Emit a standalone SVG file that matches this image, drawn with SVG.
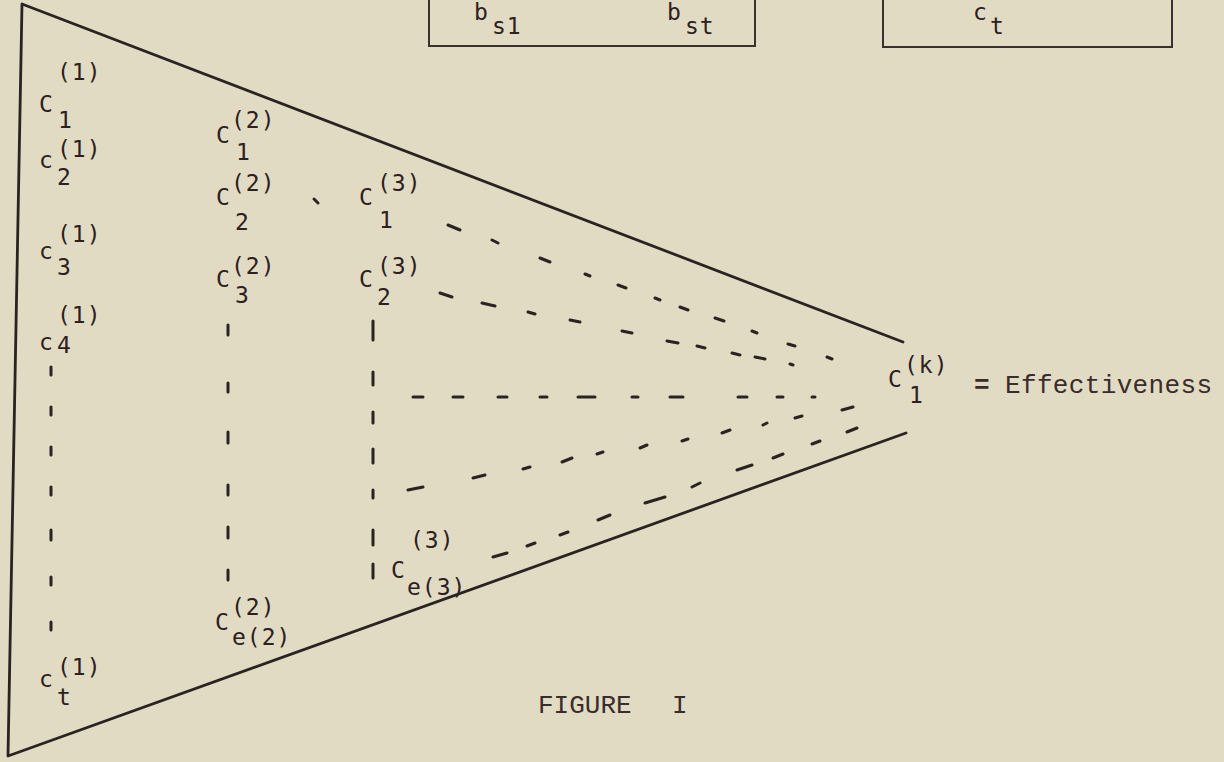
<svg xmlns="http://www.w3.org/2000/svg" width="1224" height="762" viewBox="0 0 1224 762">
<style>
.bg{fill:#e1dbc3}
.ln{fill:none;stroke:#2b2222;stroke-width:2.8;stroke-linecap:round;stroke-linejoin:round}
.bx{fill:none;stroke:#3a3030;stroke-width:2}
.ds{fill:none;stroke:#2b2222;stroke-width:3;stroke-linecap:round}
.t{font-family:"DejaVu Sans Mono","Liberation Mono",monospace;font-size:23px;fill:#2c2020}
.s{letter-spacing:1px}
.tw{font-family:"Liberation Mono","DejaVu Sans Mono",monospace;font-size:26px;fill:#3a2c2c}
</style>
<rect class="bg" x="0" y="0" width="1224" height="762"/>
<g id="frame">
<path class="ln" d="M903,342 L22,4 L8,756 L906,433"/>
</g>
<g id="box-b">
<path class="bx" d="M429,-2 L429,46 L755,46 L755,-2"/>
<text class="t" x="474" y="20">b</text>
<text class="t s" x="492" y="34">s1</text>
<text class="t" x="667" y="20">b</text>
<text class="t s" x="685" y="34">st</text>
</g>
<g id="box-c">
<path class="bx" d="M883,-2 L883,47 L1172,47 L1172,-2"/>
<text class="t" x="973" y="20">c</text>
<text class="t" x="990" y="34">t</text>
</g>
<g id="c1-1"><text class="t s" x="57" y="80">(1)</text><text class="t" x="39" y="112">C</text><text class="t" x="58" y="128">1</text></g>
<g id="c1-2"><text class="t s" x="57" y="157">(1)</text><text class="t" x="39" y="168">c</text><text class="t" x="57" y="185">2</text></g>
<g id="c1-3"><text class="t s" x="57" y="242">(1)</text><text class="t" x="39" y="259">c</text><text class="t" x="57" y="275">3</text></g>
<g id="c1-4"><text class="t s" x="57" y="323">(1)</text><text class="t" x="39" y="350">c</text><text class="t" x="57" y="353">4</text></g>
<g id="c1-t"><text class="t s" x="57" y="675">(1)</text><text class="t" x="39" y="687">c</text><text class="t" x="57" y="705">t</text></g>
<g id="c2-1"><text class="t s" x="231" y="128">(2)</text><text class="t" x="216" y="143">C</text><text class="t" x="236" y="160">1</text></g>
<g id="c2-2"><text class="t s" x="231" y="191">(2)</text><text class="t" x="216" y="205">C</text><text class="t" x="235" y="230">2</text></g>
<g id="c2-3"><text class="t s" x="231" y="274">(2)</text><text class="t" x="216" y="287">C</text><text class="t" x="235" y="303">3</text></g>
<g id="c2-e"><text class="t s" x="231" y="615">(2)</text><text class="t" x="215" y="630">C</text><text class="t s" x="232" y="645">e(2)</text></g>
<g id="c3-1"><text class="t s" x="377" y="191">(3)</text><text class="t" x="359" y="205">C</text><text class="t" x="379" y="228">1</text></g>
<g id="c3-2"><text class="t s" x="377" y="274">(3)</text><text class="t" x="359" y="287">C</text><text class="t" x="377" y="305">2</text></g>
<g id="c3-e"><text class="t s" x="410" y="548">(3)</text><text class="t" x="391" y="578">C</text><text class="t s" x="407" y="595">e(3)</text></g>
<g id="ck-1">
<text class="t s" x="904" y="373">(k)</text><text class="t" x="888" y="387">C</text><text class="t" x="909" y="403">1</text>
<text class="tw" x="974" y="393" font-weight="bold" font-size="17">=</text>
<text class="tw" x="1005" y="393" textLength="207" lengthAdjust="spacing">Effectiveness</text>
</g>
<g id="connectors">
<path class="ds" d="M51,367V375M51,407V415M51,447V455M51,487V495M51,530V540M51,577V585M51,622V630"/>
<path class="ds" d="M228,325V335M228,383V392M228,432V443M228,485V495M228,527V538M228,570V580"/>
<path class="ds" d="M373,321V340M373,372V385M373,412V423M373,449V463M373,490V498M373,530V545M373,564V578"/>
<path class="ds" d="M314,199L318,203"/>
<path class="ds" d="M448,225L460,230M492,240L498,243M540,258L550,262M585,274L590,276M618,285L626,288M655,298L660,300M680,307L688,310M715,318L724,321M752,331L757,333M788,344L795,346M827,357L832,359"/>
<path class="ds" d="M440,293L452,297M482,303L495,306M528,312L535,314M570,320L580,322M622,331L632,333M667,341L678,343M697,346L705,348M732,353L740,355M755,357L765,359M790,364L793,365"/>
<path class="ds" d="M413,397H423M453,397H463M498,397H507M540,397H547M578,397H595M632,397H638M670,397H683M738,397H747M777,397H783M812,397H815"/>
<path class="ds" d="M408,490L423,487M473,478L485,475M523,469L530,467M562,462L572,458M597,454L603,452M640,448L647,445M682,441L688,439M722,433L730,430M763,425L767,423M795,418L802,416M842,410L853,407"/>
<path class="ds" d="M493,557L507,553M527,546L535,543M560,535L568,532M598,520L610,515M645,503L665,497M692,487L700,483M737,470L752,465M773,458L783,454M812,444L820,441M847,432L857,428"/>
</g>
<g id="caption">
<text class="tw" x="538" y="713">FIGURE<tspan x="672">I</tspan></text>
</g>
</svg>
